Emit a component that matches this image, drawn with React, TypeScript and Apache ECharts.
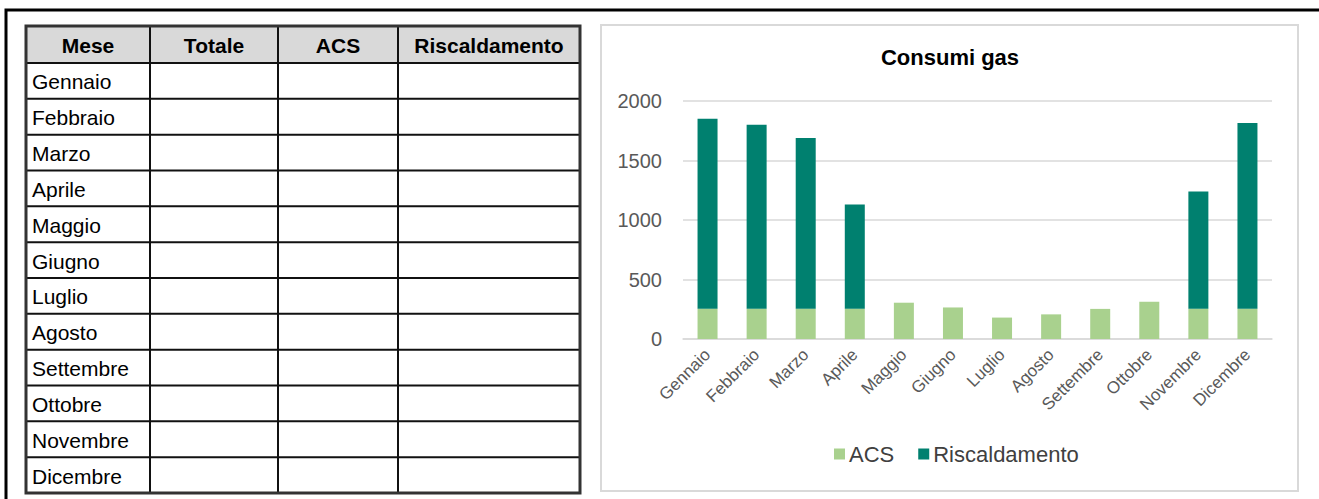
import React, { useEffect, useRef } from "react";
import * as echarts from "echarts";

const months = ["Gennaio", "Febbraio", "Marzo", "Aprile", "Maggio", "Giugno", "Luglio", "Agosto", "Settembre", "Ottobre", "Novembre", "Dicembre"];
const acs = [255, 255, 255, 255, 305, 265, 180, 207, 253, 313, 255, 255];
const riscaldamento: (number | null)[] = [1595, 1545, 1435, 875, null, null, null, null, null, null, 985, 1560];
const tableHeaders = ["Mese", "Totale", "ACS", "Riscaldamento"];
const chartTitle = "Consumi gas";
const seriesNames = ["ACS", "Riscaldamento"];

const FONT = "'Liberation Sans', Arial, sans-serif";

function buildTable(): any[] {
  const colX = [26, 150, 278, 398, 580];
  const top = 26;
  const headerBottom = 63;
  const bottom = 493;
  const rowH = (bottom - headerBottom) / months.length;
  const els: any[] = [];
  els.push({ type: "rect", shape: { x: colX[0], y: top, width: colX[4] - colX[0], height: headerBottom - top }, style: { fill: "#d9d9d9" } });
  const ys = [top, headerBottom];
  for (let i = 1; i <= months.length; i++) ys.push(headerBottom + rowH * i);
  ys.forEach((y) => {
    els.push({ type: "line", shape: { x1: colX[0], y1: y, x2: colX[4], y2: y }, style: { stroke: "#111", lineWidth: 2 } });
  });
  colX.forEach((x) => {
    els.push({ type: "line", shape: { x1: x, y1: top, x2: x, y2: bottom }, style: { stroke: "#111", lineWidth: 2 } });
  });
  els.push({ type: "rect", shape: { x: colX[0], y: top, width: colX[4] - colX[0], height: bottom - top }, style: { fill: "none", stroke: "#333", lineWidth: 3 } });
  tableHeaders.forEach((h, i) => {
    els.push({
      type: "text",
      x: (colX[i] + colX[i + 1]) / 2,
      y: (top + headerBottom) / 2 + 1,
      style: { text: h, font: `bold 21px ${FONT}`, fill: "#000", align: "center", verticalAlign: "middle" },
    });
  });
  months.forEach((m, i) => {
    els.push({
      type: "text",
      x: colX[0] + 6,
      y: headerBottom + rowH * (i + 0.5) + 1,
      style: { text: m, font: `21px ${FONT}`, fill: "#000", align: "left", verticalAlign: "middle" },
    });
  });
  return els;
}

export default function App() {
  const ref = useRef<HTMLDivElement>(null);
  useEffect(() => {
    if (!ref.current) return;
    const chart = echarts.init(ref.current, undefined, { renderer: "svg" });
    chart.setOption({
      animation: false,
      backgroundColor: "#ffffff",
      graphic: [
        { type: "rect", shape: { x: 6, y: 10, width: 2000, height: 2000 }, style: { fill: "none", stroke: "#000", lineWidth: 3 } },
        { type: "rect", shape: { x: 601, y: 25, width: 697, height: 466 }, style: { fill: "none", stroke: "#d9d9d9", lineWidth: 2 } },
        ...buildTable(),
        {
          type: "text",
          x: 950,
          y: 57,
          style: { text: chartTitle, font: `bold 22px ${FONT}`, fill: "#000", align: "center", verticalAlign: "middle" },
        },
      ],
      grid: { left: 683, right: 47, top: 101, bottom: 160, containLabel: false },
      legend: {
        left: 829,
        top: 444 - 6,
        itemWidth: 11,
        itemHeight: 11,
        itemGap: 24,
        icon: "rect",
        data: seriesNames,
        textStyle: { fontFamily: FONT, fontSize: 22, color: "#404040", padding: [0, 0, 0, -1] },
      },
      xAxis: {
        type: "category",
        data: months,
        axisLine: { lineStyle: { color: "#d9d9d9", width: 1.5 } },
        axisTick: { show: false },
        axisLabel: { rotate: 45, fontFamily: FONT, fontSize: 17, color: "#595959", margin: 13, interval: 0 },
      },
      yAxis: {
        type: "value",
        min: 0,
        max: 2000,
        interval: 500,
        axisLine: { show: false },
        axisTick: { show: false },
        splitLine: { lineStyle: { color: "#d9d9d9", width: 1.5 } },
        axisLabel: { fontFamily: FONT, fontSize: 20, color: "#595959", margin: 21, formatter: (v: number) => String(v) },
      },
      series: [
        { name: seriesNames[0], type: "bar", stack: "tot", data: acs, barWidth: 20, itemStyle: { color: "#a9d18e" } },
        { name: seriesNames[1], type: "bar", stack: "tot", data: riscaldamento, barWidth: 20, itemStyle: { color: "#00806f" } },
      ],
    });
    return () => chart.dispose();
  }, []);
  return <div ref={ref} style={{ position: "fixed", left: 0, top: 0, width: 1319, height: 499 }} />;
}
